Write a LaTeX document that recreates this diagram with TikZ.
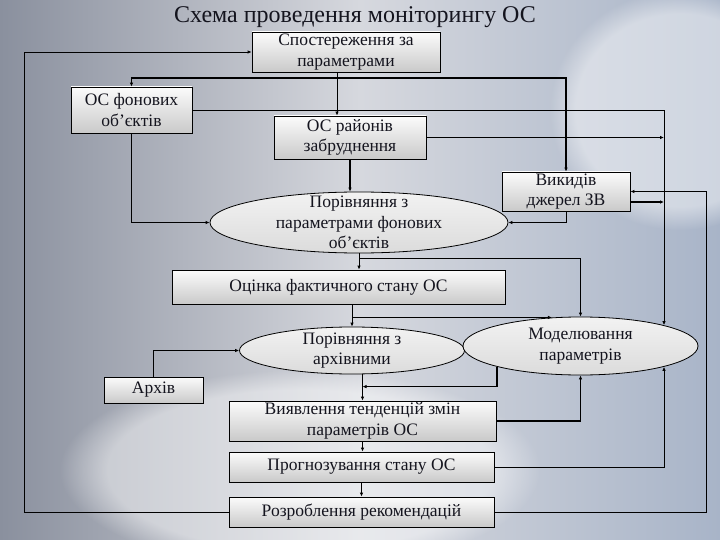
\documentclass[tikz,border=0pt]{standalone}
\usepackage{fontspec}
\setmainfont{Liberation Serif}
\usetikzlibrary{shapes.geometric,arrows.meta,calc,fadings}
\definecolor{bgL}{RGB}{138,144,158}
\definecolor{bgM}{RGB}{214,216,222}
\definecolor{bgR}{RGB}{168,180,200}
\definecolor{ink}{RGB}{20,20,30}
\begin{document}
\begin{tikzpicture}[x=1pt,y=-1pt,
  txt/.style={font=\fontsize{17.5}{20.5}\selectfont, text=ink},
  box/.style={txt, draw=black, line width=0.8pt, top color=white!97!gray, bottom color=gray!42, inner sep=0pt, align=center},
  ell/.style={ellipse, draw=black, line width=0.8pt, top color=gray!10, bottom color=gray!28, inner sep=0pt},
  elltext/.style={label={[txt, align=center]center:#1}},
  arr/.style={-{Latex[length=4pt,width=3.5pt]}, line width=0.8pt, draw=black},
  thk/.style={line width=1.6pt}]
\useasboundingbox (0,0) rectangle (720,540);
% background
\begin{scope}
\clip (0,0) rectangle (720,540);
\shade[left color=bgL, right color=bgR, middle color=bgM] (0,0) rectangle (720,540);
\fill[white, fill opacity=0.45, path fading=circle with fuzzy edge 20 percent] (300,470) ellipse (240 and 100);
\fill[white, fill opacity=0.45, path fading=circle with fuzzy edge 20 percent] (680,110) ellipse (130 and 120);
\end{scope}
% title
\node[font=\fontsize{24}{28}\selectfont, text=ink] (title) at (355,17) {Схема проведення моніторингу ОС};
% nodes
\node[box, minimum width=188pt, minimum height=40pt] (sp) at (346,52) {Спостереження за\\параметрами};
\node[box, minimum width=121pt, minimum height=46pt] (fon) at (131.5,110) {ОС фонових\\об’єктів};
\node[box, minimum width=152pt, minimum height=43pt] (ray) at (350,137.5) {ОС районів\\забруднення};
\node[box, minimum width=128pt, minimum height=39pt] (vyk) at (566,191.5) {Викидів\\джерел ЗВ};
\node[ell, minimum width=298pt, minimum height=61pt, elltext={Порівняння з\\параметрами фонових\\об’єктів}] (por1) at (359,222.5) {};
\node[box, minimum width=333pt, minimum height=34pt] (otz) at (338.5,287) {Оцінка фактичного стану ОС};
\node[ell, minimum width=225pt, minimum height=47pt, elltext={Порівняння з\\архівними}] (por2) at (352,350.5) {};
\node[ell, minimum width=235pt, minimum height=58pt, elltext={Моделювання\\параметрів}] (mod) at (580.5,346) {};
\node[box, minimum width=99pt, minimum height=26pt] (arch) at (153.5,390) {Архів};
\node[box, minimum width=267pt, minimum height=40pt] (vyy) at (362.5,421) {Виявлення тенденцій змін\\параметрів ОС};
\node[box, minimum width=265pt, minimum height=30pt] (prog) at (361.5,467) {Прогнозування стану ОС};
\node[box, minimum width=265pt, minimum height=30pt] (rozr) at (361.5,512) {Розроблення рекомендацій};
% helper coordinates
\coordinate (j1) at (337,78);
\coordinate (cx) at (664,110);
\coordinate (j2) at ($(vyy.north)+(0,-14)$);
\coordinate (j3) at ($(por1.south)+(0,5)$);
\coordinate (j4) at (por2.north |- mod.135);
\coordinate (vk) at ([yshift=-10.5pt]vyk.east);
% connectors
\draw[arr] (rozr.west) -- ++(-204,0) |- (sp.west);
\draw[arr] ([xshift=-9pt]sp.south) -- (j1 |- ray.north);
\draw[arr, thk] (j1) -| (fon.north);
\draw[arr, thk] (j1) -| (vyk.north);
\draw[arr] (fon.east) -- (cx) -- (cx |- mod.14);
\draw[arr, thk] (ray.east) -- (cx |- ray.east);
\draw[arr, thk] (vk) -- (cx |- vk);
\draw[arr] (rozr.east) -- ++(212,0) |- (vyk.east);
\draw[arr] (prog.east) -| (cx |- mod.-14);
\draw[arr, thk] (vyy.east) -| (mod.south);
\draw[arr, thk] (mod.-166) |- (j2);
\draw[arr, thk] (vyy.north |- por2.south) -- (vyy.north);
\draw[arr] (fon.south) |- (por1.west);
\draw[arr] (vyk.south) |- (por1.east);
\draw[arr, thk] (ray.south) -- (ray.south |- por1.north);
\draw[arr] (por1.south) -- (por1.south |- otz.north);
\draw[arr] (j3) -| (mod.north);
\draw[arr] (por2.north |- otz.south) -- (por2.north);
\draw[arr] (j4) -- (mod.135);
\draw[arr, thk] (arch.north) |- (por2.west);
\draw[arr] (vyy.south) -- (vyy.south |- prog.north);
\draw[arr] (prog.south) -- (prog.south |- rozr.north);
\end{tikzpicture}
\end{document}
